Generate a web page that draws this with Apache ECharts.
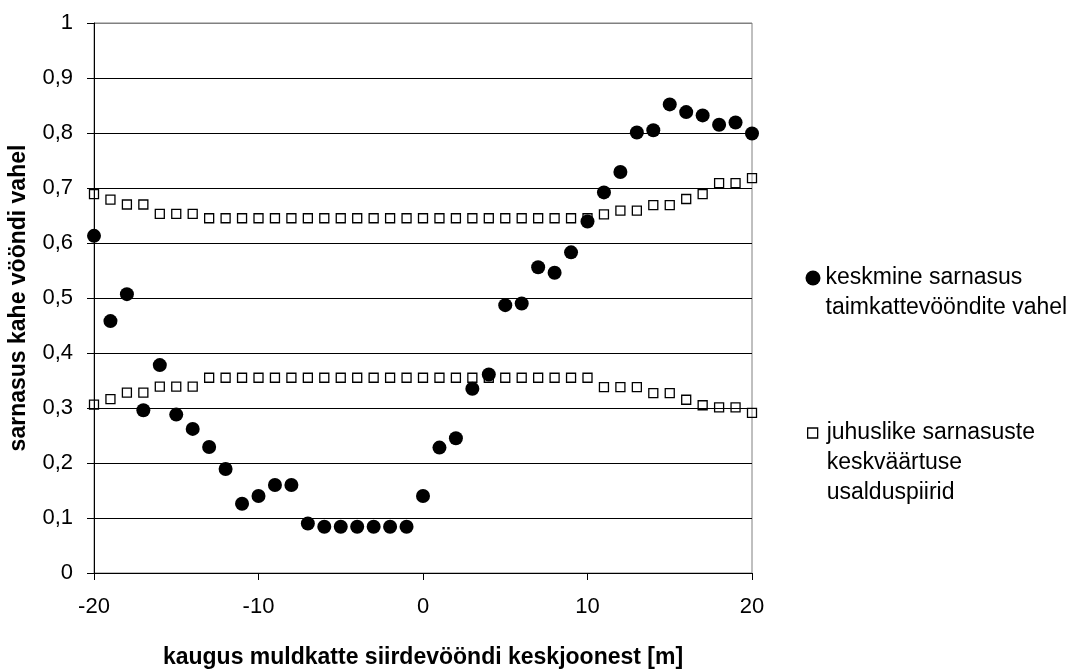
<!DOCTYPE html>
<html>
<head>
<meta charset="utf-8">
<script src="https://cdn.jsdelivr.net/npm/echarts@6/dist/echarts.min.js"></script>
<style>
html,body{margin:0;padding:0;background:#fff;}
#chart{width:1071px;height:670px;}
</style>
</head>
<body>
<div id="chart"></div>
<script>
const distances = [-20,-19,-18,-17,-16,-15,-14,-13,-12,-11,-10,-9,-8,-7,-6,-5,-4,-3,-2,-1,0,1,2,3,4,5,6,7,8,9,10,11,12,13,14,15,16,17,18,19,20];
const meanSimilarity = [0.613,0.458,0.507,0.296,0.378,0.288,0.262,0.229,0.189,0.126,0.140,0.160,0.160,0.090,0.084,0.084,0.084,0.084,0.084,0.084,0.140,0.228,0.245,0.335,0.361,0.487,0.490,0.556,0.546,0.583,0.639,0.692,0.729,0.801,0.805,0.852,0.838,0.832,0.815,0.819,0.799];
const upperLimit = [0.689,0.679,0.670,0.670,0.653,0.653,0.653,0.645,0.645,0.645,0.645,0.645,0.645,0.645,0.645,0.645,0.645,0.645,0.645,0.645,0.645,0.645,0.645,0.645,0.645,0.645,0.645,0.645,0.645,0.645,0.645,0.652,0.659,0.659,0.669,0.669,0.680,0.689,0.709,0.709,0.718];
const lowerLimit = [0.306,0.316,0.328,0.328,0.339,0.339,0.339,0.355,0.355,0.355,0.355,0.355,0.355,0.355,0.355,0.355,0.355,0.355,0.355,0.355,0.355,0.355,0.355,0.355,0.355,0.355,0.355,0.355,0.355,0.355,0.355,0.338,0.338,0.338,0.327,0.327,0.315,0.305,0.301,0.301,0.291];
const seriesNames = ['keskmine sarnasus taimkattevööndite vahel', 'juhuslike sarnasuste keskväärtuse usalduspiirid'];
const legendLines = [['keskmine sarnasus', 'taimkattevööndite vahel'], ['juhuslike sarnasuste', 'keskväärtuse', 'usalduspiirid']];
const xAxisTitle = 'kaugus muldkatte siirdevööndi keskjoonest [m]';
const yAxisTitle = 'sarnasus kahe vööndi vahel';

const FONT = '"Liberation Sans", Arial, sans-serif';
const meanData = distances.map((d, i) => [d, meanSimilarity[i]]);
const limitData = distances.map((d, i) => [d, upperLimit[i]]).concat(distances.map((d, i) => [d, lowerLimit[i]]));

const chart = echarts.init(document.getElementById('chart'), null, {renderer: 'canvas'});
const LH = 30;
function legendCfg(idx, icon, size, iconCenterX, iconCenterY, extraLeft, itemStyle) {
  const n = legendLines[idx].length;
  // blank lines before the text keep the first line level with the icon
  const blanks = [];
  for (let k = 0; k < n - 1; k++) blanks.push(' ');
  return {
    data: [{name: seriesNames[idx], icon: icon, itemStyle: itemStyle}],
    orient: 'vertical',
    left: iconCenterX - size / 2,
    top: iconCenterY - (2 * n - 1) * LH / 2,
    padding: 0,
    itemWidth: size,
    itemHeight: size,
    itemGap: 0,
    selectedMode: false,
    formatter: () => blanks.concat(legendLines[idx]).join('\n'),
    textStyle: {
      fontFamily: FONT, fontSize: 23, color: '#000', lineHeight: LH,
      padding: [0, 0, 0, extraLeft]
    }
  };
}
chart.setOption({
  animation: false,
  backgroundColor: '#fff',
  grid: {left: 94, right: 319, top: 23, bottom: 97, show: true, borderColor: '#808080', borderWidth: 1,
         containLabel: false, outerBoundsMode: 'none'},
  legend: [
    legendCfg(0, 'circle', 15, 813, 278, 0, {color: '#000', borderWidth: 0}),
    legendCfg(1, 'rect', 10, 812, 433, 4, {color: 'rgba(0,0,0,0)', borderColor: '#000', borderWidth: 1.3})
  ],
  xAxis: {
    type: 'value', min: -20, max: 20, interval: 10,
    name: xAxisTitle, nameLocation: 'middle', nameGap: 73,
    nameTextStyle: {fontFamily: FONT, fontSize: 23, fontWeight: 'bold', color: '#000'},
    axisLine: {show: true, onZero: false, lineStyle: {color: '#000', width: 1}},
    axisTick: {show: true, inside: false, length: 7, lineStyle: {color: '#000'}},
    axisLabel: {fontFamily: FONT, fontSize: 22, color: '#000', margin: 23},
    splitLine: {show: false}
  },
  yAxis: {
    type: 'value', min: 0, max: 1, interval: 0.1,
    name: yAxisTitle, nameLocation: 'middle', nameGap: 64,
    nameTextStyle: {fontFamily: FONT, fontSize: 23, fontWeight: 'bold', color: '#000'},
    axisLine: {show: true, onZero: false, lineStyle: {color: '#000', width: 1}},
    axisTick: {show: true, inside: false, length: 7, lineStyle: {color: '#000'}},
    axisLabel: {fontFamily: FONT, fontSize: 22, color: '#000', margin: 21,
      formatter: v => String(Math.round(v * 10) / 10).replace('.', ',')},
    splitLine: {show: true, lineStyle: {color: ['#000','#000','#000','#000','#000','#000','#000','#000','#000','#000','#808080'], width: 1}}
  },
  series: [
    {
      name: seriesNames[0], type: 'scatter', data: meanData,
      symbol: 'circle', symbolSize: 14,
      itemStyle: {color: '#000', opacity: 1}, z: 2
    },
    {
      name: seriesNames[1], type: 'scatter', data: limitData,
      symbol: 'rect', symbolSize: 9,
      itemStyle: {color: 'rgba(0,0,0,0)', borderColor: '#000', borderWidth: 1.3, opacity: 1}, z: 3
    }
  ]
});
</script>
</body>
</html>
